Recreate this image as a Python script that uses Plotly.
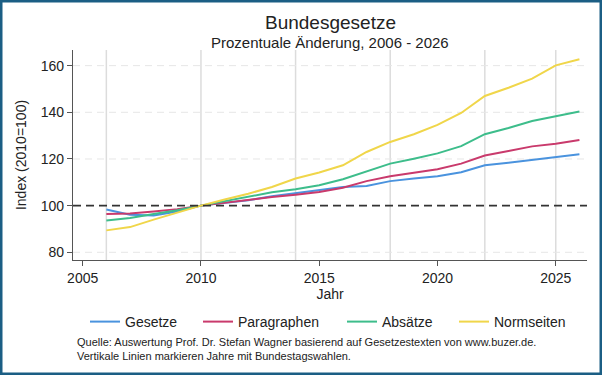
import plotly.graph_objects as go

years = list(range(2006, 2027))
gesetze = [98.3, 96.1, 95.8, 97.5, 100, 101.2, 102.3, 104.0, 105.4, 106.5, 108.0, 108.4, 110.5, 111.6, 112.6, 114.3, 117.3, 118.4, 119.7, 120.8, 122.0]
paragraphen = [96.4, 96.6, 97.5, 98.5, 100, 101.3, 102.6, 103.7, 104.7, 105.8, 107.7, 110.5, 112.6, 114.0, 115.6, 118.0, 121.5, 123.4, 125.4, 126.5, 128.1]
absaetze = [93.6, 94.7, 96.4, 98.0, 100, 101.8, 103.7, 105.7, 107.0, 108.7, 111.3, 114.7, 118.0, 120.1, 122.4, 125.5, 130.6, 133.3, 136.3, 138.3, 140.3]
normseiten = [89.4, 90.8, 94.0, 97.0, 100, 102.6, 105.1, 108.0, 111.6, 114.2, 117.3, 123.0, 127.3, 130.6, 134.6, 139.7, 147.0, 150.5, 154.4, 160.1, 162.7]
wahl_linien = [2006, 2010, 2014, 2018, 2022, 2025]
y_ticks = [80, 100, 120, 140, 160]
x_ticks = [2005, 2010, 2015, 2020, 2025]

series = [
    ("Gesetze", gesetze, "#4a93de"),
    ("Paragraphen", paragraphen, "#c93a6c"),
    ("Absätze", absaetze, "#3dbd8b"),
    ("Normseiten", normseiten, "#f0d64a"),
]

L, R, T, B = 73, 587, 50, 260
def px(x):
    return (x - L) / (R - L)
def py(y):
    return (B - y) / (B - T)

legend_ids = ["legend", "legend2", "legend3", "legend4"]
legend_x = [90, 203, 347, 459]

fig = go.Figure()
for (name, vals, col), lid in zip(series, legend_ids):
    fig.add_trace(go.Scatter(x=years, y=vals, mode="lines", name=name, legend=lid,
                             line=dict(color=col, width=2)))

shapes = []
for yr in wahl_linien:
    shapes.append(dict(type="line", xref="x", yref="paper", x0=yr, x1=yr, y0=0, y1=1,
                       line=dict(color="#dcdcdc", width=1.5), layer="below"))
for yv in [80, 120, 140, 160]:
    shapes.append(dict(type="line", xref="paper", yref="y", x0=0, x1=1, y0=yv, y1=yv,
                       line=dict(color="#e6e6e6", width=1, dash="7px,5px"), layer="below"))
shapes.append(dict(type="line", xref="paper", yref="y", x0=0, x1=1, y0=100, y1=100,
                   line=dict(color="#333333", width=1.6, dash="8px,5px"), layer="above"))
shapes.append(dict(type="rect", xref="paper", yref="paper",
                   x0=px(1), x1=px(601), y0=py(1), y1=py(374),
                   line=dict(color="#1b5e84", width=3)))

legend_common = dict(orientation="h", yanchor="middle", xanchor="left",
                     font=dict(size=14), itemwidth=30, bgcolor="rgba(0,0,0,0)")
layout_legends = {}
for lid, lx in zip(legend_ids, legend_x):
    layout_legends[lid] = dict(legend_common, x=px(lx - 5), y=py(322))

fig.update_layout(
    width=602, height=375,
    margin=dict(l=L, r=602 - R, t=T, b=375 - B),
    paper_bgcolor="white", plot_bgcolor="white",
    font=dict(family="Liberation Sans, Arial, sans-serif", color="#222222", size=12),
    showlegend=True,
    shapes=shapes,
    annotations=[
        dict(text="Bundesgesetze", xref="paper", yref="paper", x=0.5, y=py(22),
             showarrow=False, font=dict(size=19), xanchor="center", yanchor="middle"),
        dict(text="Prozentuale Änderung, 2006 - 2026", xref="paper", yref="paper", x=0.5, y=py(43),
             showarrow=False, font=dict(size=15), xanchor="center", yanchor="middle"),
        dict(text="Quelle: Auswertung Prof. Dr. Stefan Wagner basierend auf Gesetzestexten von www.buzer.de.<br>Vertikale Linien markieren Jahre mit Bundestagswahlen.",
             xref="paper", yref="paper", x=px(75), y=py(349), showarrow=False, align="left",
             font=dict(size=11), xanchor="left", yanchor="middle"),
    ],
    xaxis=dict(range=[2004.59, 2026.32], tickvals=x_ticks, showgrid=False, zeroline=False,
               showline=True, linecolor="#555555", linewidth=1.3, ticks="outside",
               ticklen=5, tickcolor="#555555", tickfont=dict(size=14),
               title=dict(text="Jahr", font=dict(size=14), standoff=2)),
    yaxis=dict(range=[76.7, 166.7], tickvals=y_ticks, showgrid=False, zeroline=False,
               showline=True, linecolor="#555555", linewidth=1.3, ticks="outside",
               ticklen=5, tickcolor="#555555", tickfont=dict(size=14),
               title=dict(text="Index (2010=100)", font=dict(size=14), standoff=10)),
    **layout_legends,
)

fig.write_html("out.html", config={"displayModeBar": False},
               post_script="document.body.style.margin='0';document.body.style.overflow='hidden';")
